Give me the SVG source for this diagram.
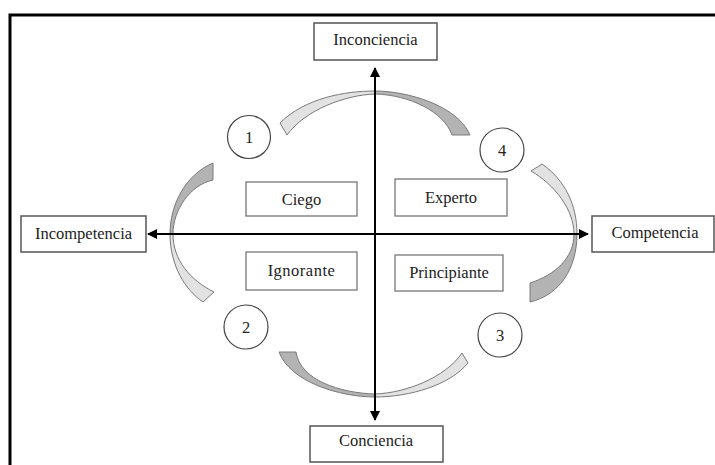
<svg xmlns="http://www.w3.org/2000/svg" width="715" height="465" viewBox="0 0 715 465">
<style>
.box{fill:#fff;stroke:#555;stroke-width:1.5}
.ibox{fill:#fff;stroke:#777;stroke-width:1.3}
.t{font-family:"Liberation Serif","Times New Roman",serif;font-size:16.5px;fill:#222;text-anchor:middle}
.c{fill:#fff;stroke:#444;stroke-width:1.2}
.lt{fill:#e2e2e2;stroke:#7a7a7a;stroke-width:1}
.dk{fill:#b3b3b3;stroke:#7a7a7a;stroke-width:1}
.ax{stroke:#000;stroke-width:2;fill:none}
</style>
<defs>
<marker id="ah" viewBox="0 0 10 10" refX="9" refY="5" markerWidth="5" markerHeight="5" orient="auto-start-reverse" markerUnits="strokeWidth">
<path d="M0,0 L10,5 L0,10 Z" fill="#000"/>
</marker>
</defs>
<rect width="715" height="465" fill="#fff"/>
<path d="M10,465 V15 H715" fill="none" stroke="#000" stroke-width="3"/>
<g id="bands">
<path class="lt" d="M280,123 C305,98 345,91 375,91 L375,94 C345,95 305,110 287,135 Z"/>
<path class="dk" d="M375,91 C408,91 458,106 470,135 L452,135 C444,112 410,95 375,94 Z"/>
<path class="dk" d="M279,352 C290,382 340,397 375,397 L375,394 C340,393 300,380 296,352 Z"/>
<path class="lt" d="M375,397 C410,397 450,385 468,363 L462,353 C445,378 405,393 375,394 Z"/>
<path class="dk" d="M213,163 C185,175 170,205 170,234 L173,234 C173,210 190,185 213,180 Z"/>
<path class="lt" d="M170,234 C170,265 185,290 203,302 L214,292 C190,280 173,260 173,234 Z"/>
<path class="lt" d="M542,164 C565,180 577,205 577,234 L574,234 C574,210 555,185 531,171 Z"/>
<path class="dk" d="M577,234 C577,268 560,295 530,302 L530,283 C555,275 574,258 574,234 Z"/>
</g>
<g id="connectors">
<line class="ax" x1="375" y1="420" x2="375" y2="68" marker-start="url(#ah)" marker-end="url(#ah)"/>
<line class="ax" x1="148" y1="234" x2="588" y2="234" marker-start="url(#ah)" marker-end="url(#ah)"/>
</g>
<g id="inconciencia"><rect class="box" x="314" y="23" width="123" height="37"/><text class="t" x="375.5" y="45">Inconciencia</text></g>
<g id="incompetencia"><rect class="box" x="21" y="216" width="125" height="36"/><text class="t" x="83.5" y="238.5">Incompetencia</text></g>
<g id="competencia"><rect class="box" x="592" y="216" width="122" height="36"/><text class="t" x="655" y="238">Competencia</text></g>
<g id="conciencia"><rect class="box" x="310" y="426" width="133" height="36"/><text class="t" x="376" y="446">Conciencia</text></g>
<g id="ciego"><rect class="ibox" x="246" y="182" width="111" height="34"/><text class="t" x="301.5" y="205">Ciego</text></g>
<g id="experto"><rect class="ibox" x="395" y="179" width="112" height="37"/><text class="t" x="451" y="203">Experto</text></g>
<g id="ignorante"><rect class="ibox" x="246" y="252" width="111" height="38"/><text class="t" x="301.5" y="276" letter-spacing="0.5">Ignorante</text></g>
<g id="principiante"><rect class="ibox" x="395" y="255" width="108" height="36"/><text class="t" x="449" y="278">Principiante</text></g>
<g id="n1"><circle class="c" cx="249" cy="137" r="21.5"/><text class="t" x="249" y="143">1</text></g>
<g id="n2"><circle class="c" cx="246" cy="327" r="22"/><text class="t" x="246" y="333">2</text></g>
<g id="n3"><circle class="c" cx="500" cy="335" r="22"/><text class="t" x="500" y="341">3</text></g>
<g id="n4"><circle class="c" cx="502" cy="150" r="22"/><text class="t" x="502" y="156">4</text></g>
</svg>
